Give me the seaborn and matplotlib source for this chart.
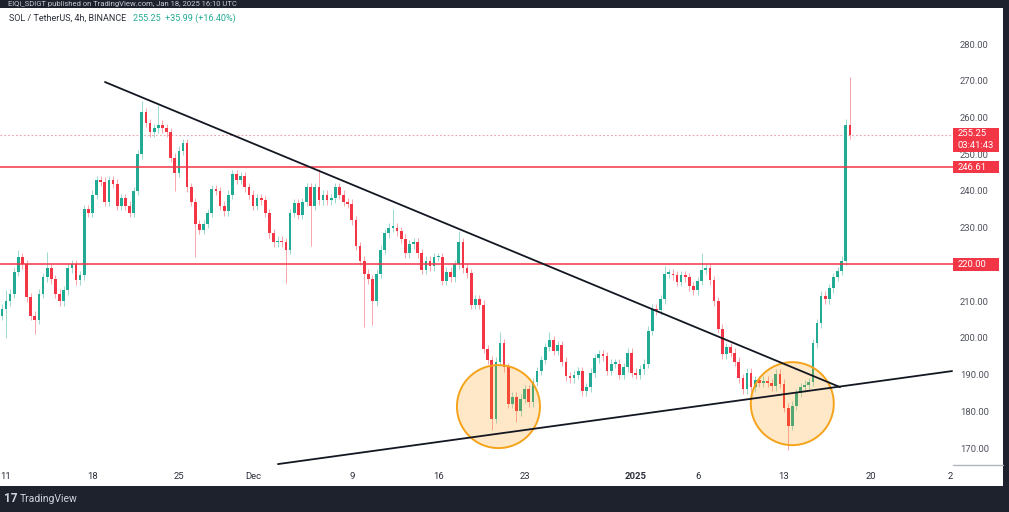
import numpy as np
import pandas as pd
import matplotlib
matplotlib.use("Agg")
import matplotlib.pyplot as plt
import seaborn as sns
from matplotlib.patches import Ellipse, Rectangle
from matplotlib.lines import Line2D

# ---------------- data ----------------
start_time = "2024-11-10 16:00"
candle_freq = "8h"
first_open = 206.0
closes = [
    208, 210, 212, 218, 222, 220, 211, 206, 205, 212,
    216.5, 219, 216, 212, 210, 213, 219, 220, 215.7, 217,
    235, 234, 239, 243, 242.5, 237, 243, 242, 236, 238,
    236, 234, 240, 250, 261.5, 258.5, 256, 257, 258, 257,
    256, 249, 245, 251, 253, 241, 237, 231, 229.5, 231,
    234, 240.5, 240, 236, 234.5, 239, 244.5, 243, 244, 241,
    239, 236, 238, 237.5, 234, 228.5, 226, 226.5, 226, 224,
    234, 236.6, 233.5, 237, 241, 236, 241, 237.5, 239, 237.5,
    238, 241, 239, 237, 236.5, 232, 225, 221, 217.5, 216,
    210, 217.5, 224, 228.5, 230, 230, 229, 227, 223, 225.5,
    226, 223, 218.5, 221, 219.5, 222, 222, 215.5, 218, 216.5,
    220, 226, 219, 217.6, 209, 210.5, 209, 197, 194, 178,
    193.5, 198.6, 192, 182, 184, 180, 183.5, 186, 182.5, 188,
    191, 194, 197.5, 199.4, 196.5, 198, 193.5, 189.5, 189, 190,
    191, 185.5, 186.5, 190.5, 194.5, 195.5, 195, 191, 193, 193,
    190, 192, 196, 190.5, 190, 191.5, 193, 202, 208, 207.5,
    210.5, 217.5, 217.5, 217, 215.2, 217, 216.5, 214, 213, 215.5,
    218.5, 219, 215.7, 210, 202.5, 195.5, 197.5, 196, 193.5, 189,
    186, 190.5, 186.5, 188.5, 187.8, 188.4, 187.7, 186.8, 190.2, 187.5,
    181, 176, 181.5, 185, 186.6, 187.3, 188, 198.5, 204, 211.5,
    210.5, 213.5, 216.6, 218.2, 221, 258, 255.25,
]
# notable wick extremes (candle index -> price)
wick_high = {1: 213, 4: 224, 11: 223.5, 34: 264.5, 38: 263.5, 77: 246,
             95: 235, 111: 229, 121: 201.5, 133: 201.6, 161: 219.5,
             170: 223, 205: 259.5, 206: 271}
wick_low = {1: 200, 8: 201, 42: 240, 47: 222, 69: 215, 75: 225, 88: 203,
            90: 203.5, 119: 175, 125: 177, 191: 169.5}

levels = [246.61, 220.00]
last_price = 255.25
desc_line_t = ["2024-11-19 00:20", "2025-01-17 12:45"]
desc_line_p = [269.65, 186.6]
asc_line_t = ["2024-12-03 00:30", "2025-01-26 14:30"]
asc_line_p = [165.65, 190.97]
circle_t = ["2024-12-20 21:00", "2025-01-13 16:00"]
circle_p = [181.3, 182.1]

tick_dates = ["2024-11-11", "2024-11-18", "2024-11-25", "2024-12-01",
              "2024-12-09", "2024-12-16", "2024-12-23", "2025-01-01",
              "2025-01-06", "2025-01-13", "2025-01-20", "2025-01-26 11:00"]
tick_labels = ["11", "18", "25", "Dec", "9", "16", "23", "2025", "6", "13", "20", "2"]
price_ticks = [170, 180, 190, 200, 210, 220, 230, 240, 250, 260, 270, 280]

# ---------------- style ----------------
sns.set_theme(style="white")
plt.rcParams['font.family'] = ['Roboto', 'DejaVu Sans']

UP, DOWN = "#22ab94", "#f23645"
BG = "#1e222d"
W, H = 1009, 512


def fx(px):
    return px / W


def fy(py):
    return 1 - py / H


t0 = pd.Timestamp("2024-11-11")


def to_day(ts):
    return (pd.to_datetime(ts) - t0) / pd.Timedelta(days=1)


fig = plt.figure(figsize=(W / 100, H / 100), dpi=100, facecolor=BG)
fig.patches.append(Rectangle((0, fy(486)), fx(1003), (486 - 8) / H,
                             transform=fig.transFigure, facecolor="white",
                             edgecolor="none", zorder=-1))
ax = fig.add_axes([0, fy(465), fx(953), (465 - 8) / H])
ax.set_facecolor("white")

times = pd.date_range(start_time, periods=len(closes), freq=candle_freq)
days = np.asarray(to_day(times), dtype=float)
c = np.asarray(closes, dtype=float)
o = np.concatenate([[first_open], c[:-1]])
up = c >= o
cols = np.where(up, UP, DOWN)
hi = np.maximum(o, c) + 1.2
lo = np.minimum(o, c) - 1.2
for k, v in wick_high.items():
    hi[k] = v
for k, v in wick_low.items():
    lo[k] = v

ax.vlines(days, lo, hi, colors=cols, linewidth=0.7, alpha=0.45, zorder=2)
ax.bar(days, np.maximum(np.abs(c - o), 0.4), bottom=np.minimum(o, c),
       width=0.22, color=cols, linewidth=0, zorder=3)

# horizontal levels and last price line
for lv in levels:
    ax.axhline(lv, color=DOWN, linewidth=1.1, zorder=4)
ax.axhline(last_price, color="#e9a3aa", linewidth=0.8, linestyle=(0, (1.5, 2)), zorder=1)

# circles
rx_days = 41.5 / 12.35
ry_price = 41.5 / 3.673
for ct, cp in zip(circle_t, circle_p):
    ax.add_patch(Ellipse((to_day(ct), cp), 2 * rx_days, 2 * ry_price,
                         facecolor=(1.0, 0.6, 0.0, 0.22), edgecolor="#f5a31a",
                         linewidth=1.4, zorder=5))

# trendlines
sns.lineplot(x=[to_day(t) for t in desc_line_t], y=desc_line_p, ax=ax,
             color="#131722", linewidth=1.3, zorder=6)
sns.lineplot(x=[to_day(t) for t in asc_line_t], y=asc_line_p, ax=ax,
             color="#131722", linewidth=1.3, zorder=6)

ax.set_xlim(-0.486, 76.68)
ax.set_ylim(165.4, 289.8)
for s in ax.spines.values():
    s.set_visible(False)
ax.grid(False)

ax.set_xticks([to_day(t) for t in tick_dates])
ax.set_xticklabels(tick_labels)
ax.tick_params(axis="x", length=0, pad=5, labelsize=6.8, labelcolor="#2a2e39")
for lab in ax.get_xticklabels():
    if lab.get_text() == "2025":
        lab.set_fontweight("bold")

ax.yaxis.tick_right()
ax.set_yticks(price_ticks)
ax.set_yticklabels([f"{v:.2f}" for v in price_ticks])
ax.tick_params(axis="y", length=0, pad=5, labelsize=6.8, labelcolor="#50535e")
ax.set_xlabel("")
ax.set_ylabel("")

# price scale bottom line
fig.add_artist(Line2D([fx(953), fx(1003)], [fy(465), fy(465)], color="#b2b5be", lw=1))

# red price boxes
boxes = [(128, 152, ["255.25", "03:41:43"]), (161, 173, ["246.61"]), (258, 271, ["220.00"])]
for top, bot, texts in boxes:
    fig.add_artist(Rectangle((fx(953), fy(bot)), fx(999) - fx(953), (bot - top) / H,
                             transform=fig.transFigure, facecolor=DOWN,
                             edgecolor="none", zorder=5))
    n = len(texts)
    for j, t in enumerate(texts):
        ypx = top + (bot - top) * (j + 0.5) / n
        fig.text(fx(958), fy(ypx), t, color="white", fontsize=6.8,
                 va="center", ha="left", zorder=6)

# header texts
fig.text(fx(8), fy(4), "ElQi_SDIGT published on TradingView.com, Jan 18, 2025 16:10 UTC",
         color="#c8cad0", fontsize=5.5, va="center", ha="left")
fig.text(fx(9), fy(18), "SOL / TetherUS, 4h, BINANCE", color="#2a2e39",
         fontsize=6.5, va="center", ha="left")
fig.text(fx(133), fy(18), "255.25  +35.99 (+16.40%)", color=UP,
         fontsize=6.5, va="center", ha="left")

# footer
fig.text(fx(4), fy(499), "17", color="#d1d4dc", fontsize=8.5, fontweight="bold",
         va="center", ha="left")
fig.text(fx(20), fy(499), "TradingView", color="#d1d4dc", fontsize=7.5,
         va="center", ha="left")

fig.savefig("out.png", dpi=100, facecolor=fig.get_facecolor())
